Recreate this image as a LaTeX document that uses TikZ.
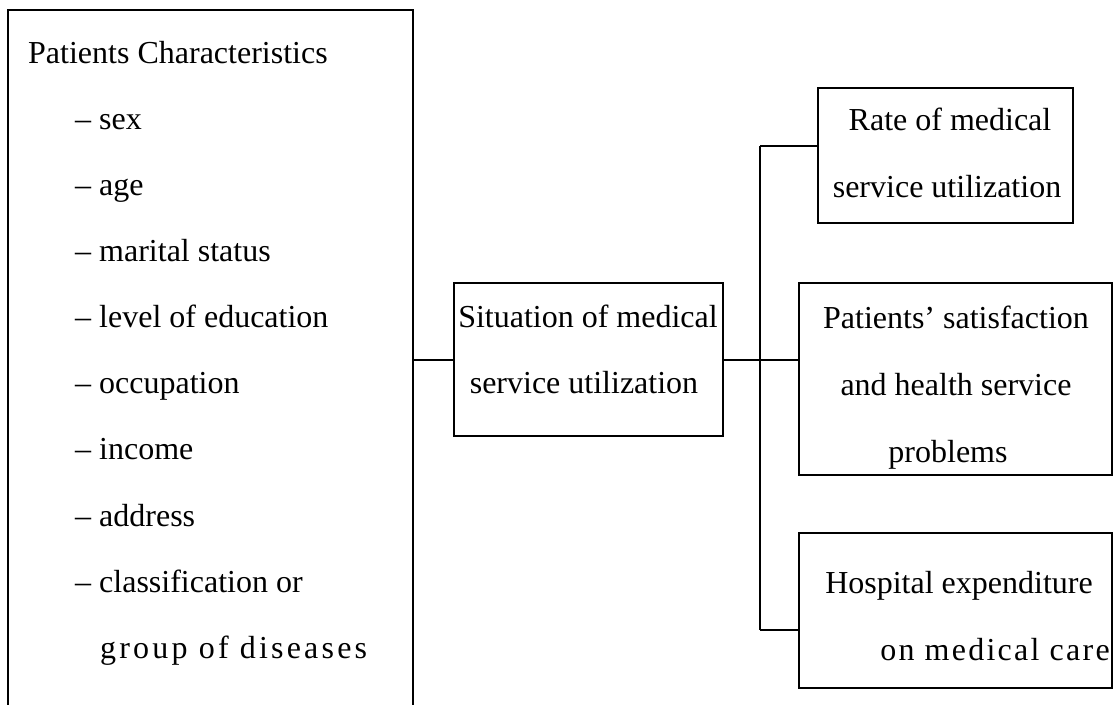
\documentclass[tikz,border=0pt]{standalone}
\usepackage{fontspec}
\setmainfont{Liberation Serif}
\newfontfamily\spacedA[LetterSpace=10]{Liberation Serif}
\newfontfamily\spacedB[LetterSpace=7]{Liberation Serif}
\begin{document}
\begin{tikzpicture}[x=1pt,y=-1pt,
  box/.style={draw,line width=2pt,inner sep=0pt,rectangle},
  conn/.style={line width=2pt},
  txt/.style={inner sep=0pt,anchor=base,font=\fontsize{32}{40}\selectfont},
  txtw/.style={inner sep=0pt,anchor=base west,font=\fontsize{32}{40}\selectfont}]
\clip (0,0) rectangle (1115,704);
\useasboundingbox (0,0) rectangle (1115,704);
% boxes
\node[box,minimum width=405pt,minimum height=710pt] (pc) at (210.5,365) {};
\node[box,minimum width=269pt,minimum height=153pt] (sit) at (588.5,359.5) {};
\node[box,minimum width=255pt,minimum height=135pt] (rate) at (945.5,155.5) {};
\node[box,minimum width=313pt,minimum height=192pt] (pat) at (955.5,379) {};
\node[box,minimum width=313pt,minimum height=155pt] (hosp) at (955.5,610.5) {};
% left texts
\node[txtw] (t0) at (28,63) {Patients Characteristics};
\node[txtw] (t1) at (75,129) {-- sex};
\node[txtw] (t2) at (75,195) {-- age};
\node[txtw] (t3) at (75,261) {-- marital status};
\node[txtw] (t4) at (75,327) {-- level of education};
\node[txtw] (t5) at (75,393) {-- occupation};
\node[txtw] (t6) at (75,459) {-- income};
\node[txtw] (t7) at (75,526) {-- address};
\node[txtw] (t8) at (75,592) {-- classification or};
\node[txtw,font=\fontsize{32}{40}\spacedA] (t9) at (100,658) {group of diseases};
% middle
\node[txt] (s1) at (588,327) {Situation of medical};
\node[txt] (s2) at (584,393) {service utilization};
% rate
\node[txt] (r1) at (950,130) {Rate of medical};
\node[txt] (r2) at (947,197) {service utilization};
% patients
\node[txt] (p1) at (956,328) {Patients’ satisfaction};
\node[txt] (p2) at (956,395) {and health service};
\node[txt] (p3) at (948,462) {problems};
% hospital
\node[txt] (h1) at (959,593) {Hospital expenditure};
\node[txt,font=\fontsize{32}{40}\spacedB] (h2) at (995,660) {on medical care};
% connectors
\coordinate (busT) at (760,146);
\coordinate (busB) at (760,630);
\draw[conn] (pc.east |- sit.west) -- (sit.west);
\draw[conn] (sit.east) -- (sit.east -| pat.west);
\draw[conn] (busT) -- (busB);
\draw[conn] (busT) -- (busT -| rate.west);
\draw[conn] (busB) -- (busB -| hosp.west);
\end{tikzpicture}
\end{document}
